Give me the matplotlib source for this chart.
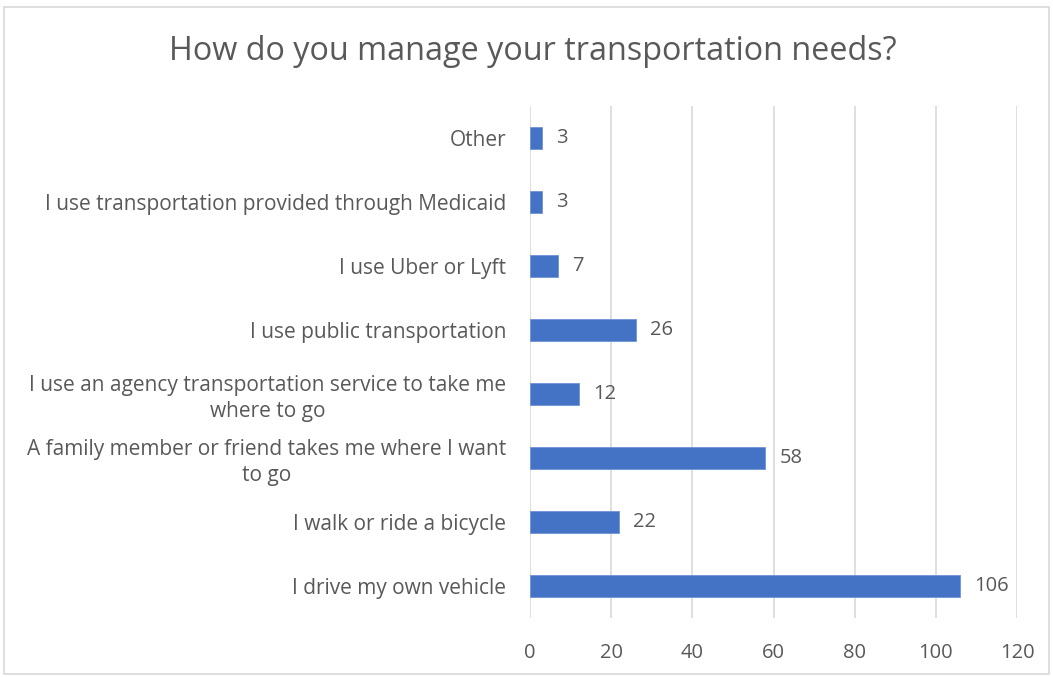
import matplotlib
matplotlib.use("Agg")
import matplotlib.pyplot as plt
from matplotlib.patches import Rectangle

categories = [
    "I drive my own vehicle",
    "I walk or ride a bicycle",
    "A family member or friend takes me where I want\nto go",
    "I use an agency transportation service to take me\nwhere to go",
    "I use public transportation",
    "I use Uber or Lyft",
    "I use transportation provided through Medicaid",
    "Other",
]
values = [106, 22, 58, 12, 26, 7, 3, 3]
xticks = [0, 20, 40, 60, 80, 100, 120]
title = "How do you manage your transportation needs?"

plt.rcParams['font.family'] = ['Open Sans', 'DejaVu Sans']
txt = '#595959'
bar_color = '#4472C4'

W, H = 1053, 677
fig = plt.figure(figsize=(W / 100, H / 100), dpi=100)
fig.patches.append(Rectangle((4 / W, 3 / H), (W - 8) / W, (H - 10) / H,
                             transform=fig.transFigure, fill=False,
                             edgecolor='#D9D9D9', linewidth=1.2))

ax = fig.add_axes([530 / W, 1 - 618 / H, (1017 - 530) / W, (618 - 106) / H])
pos = list(range(len(categories)))
ax.barh(pos, values, height=0.35, color=bar_color, edgecolor='#6F93D6', linewidth=0.6, zorder=3)
ax.set_xlim(0, 120)
ax.set_ylim(-0.5, len(categories) - 0.5)
ax.set_xticks(xticks)
ax.set_xticklabels([str(t) for t in xticks])
ax.set_yticks(pos)
ax.set_yticklabels(categories, multialignment='center', linespacing=1.25)
ax.grid(axis='x', color='#D9D9D9', linewidth=1.2, zorder=0)
for s in ax.spines.values():
    s.set_visible(False)
ax.tick_params(axis='both', length=0, labelsize=14.5, colors=txt)
ax.tick_params(axis='y', pad=17, labelsize=15)
ax.tick_params(axis='x', pad=18)

for p, v in zip(pos, values):
    ax.text(v + 3.5, p, str(v), va='center', ha='left', fontsize=14.5, color=txt)

fig.text(533 / W, 1 - 52 / H, title, ha='center', va='center', fontsize=23.3, color=txt)

fig.savefig("out.png", dpi=100)
